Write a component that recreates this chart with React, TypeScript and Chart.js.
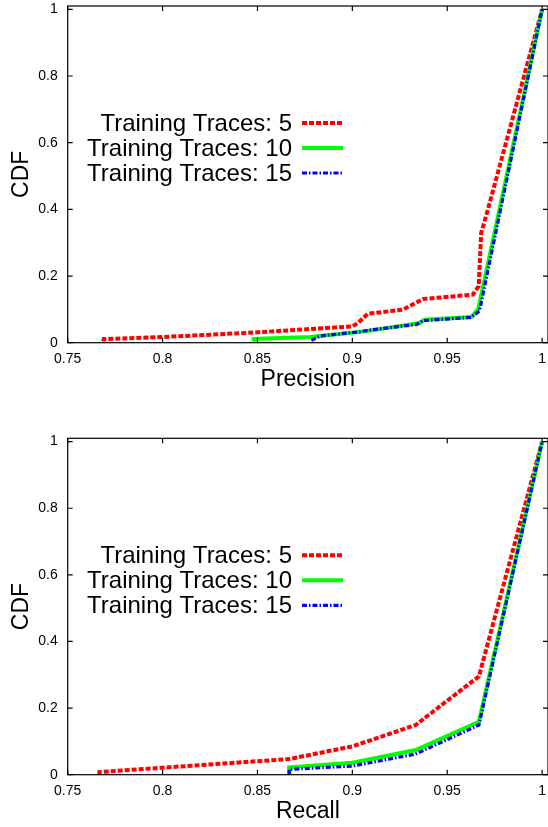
import React, { useEffect, useRef } from 'react';
import { Chart, registerables } from 'chart.js';

Chart.register(...registerables);

const FONT = '"Liberation Sans", Arial, Helvetica, sans-serif';

// ---- data ----
const seriesLabels = ['Training Traces: 5', 'Training Traces: 10', 'Training Traces: 15'];
const xTickValues = [0.75, 0.8, 0.85, 0.9, 0.95, 1];
const yTickValues = [0, 0.2, 0.4, 0.6, 0.8, 1];

// Precision panel
const precisionX5 = [0.7687, 0.769, 0.8, 0.85, 0.9, 0.9029, 0.9082, 0.9266, 0.9372, 0.9635, 0.9666, 0.9679, 0.9705, 1.0];
const precisionCdf5 = [0.004, 0.011, 0.017, 0.031, 0.049, 0.059, 0.087, 0.099, 0.131, 0.144, 0.17, 0.33, 0.38, 1.0];
const precisionX10 = [0.8477, 0.848, 0.8775, 0.9065, 0.9354, 0.938, 0.9626, 0.9653, 0.9663, 1.0];
const precisionCdf10 = [0.004, 0.011, 0.017, 0.034, 0.059, 0.069, 0.077, 0.094, 0.1, 1.0];
const precisionX15 = [0.8784, 0.883, 0.904, 0.908, 0.934, 0.937, 0.9626, 0.967, 1.0];
const precisionCdf15 = [0.007, 0.02, 0.033, 0.037, 0.055, 0.066, 0.076, 0.095, 1.0];

// Recall panel
const recallX5 = [0.7667, 0.7667, 0.8667, 0.9, 0.9333, 0.9667, 1.0];
const recallCdf5 = [0.0, 0.008, 0.047, 0.085, 0.149, 0.295, 1.0];
const recallX10 = [0.8667, 0.8667, 0.9, 0.9333, 0.9667, 1.0];
const recallCdf10 = [0.0, 0.022, 0.036, 0.074, 0.159, 1.0];
const recallX15 = [0.8667, 0.8667, 0.9, 0.9333, 0.9667, 1.0];
const recallCdf15 = [0.0, 0.016, 0.026, 0.062, 0.149, 1.0];

const seriesColors = ['#ff0000', '#00ff00', '#0000ff'];
const seriesWidths = [4, 4, 3.2];
const seriesDashes: number[][] = [[5, 2], [], [5, 2, 1.5, 2]];

const toPoints = (xs: number[], ys: number[]) => xs.map((x, i) => ({ x, y: ys[i] }));

const fmt = (v: number) => String(Number(v.toFixed(2)));

const gnuplotPlugin = {
  id: 'gnuplotFrame',
  afterDatasetsDraw(chart: any) {
    const { ctx, chartArea } = chart;
    const { left, right, top, bottom } = chartArea;
    const xs = chart.scales.x;
    const ys = chart.scales.y;
    const tl = 5;
    ctx.save();
    ctx.strokeStyle = '#000';
    ctx.lineWidth = 1.2;
    ctx.setLineDash([]);
    ctx.strokeRect(left, top, right - left, bottom - top);
    ctx.beginPath();
    xTickValues.forEach((v) => {
      const px = xs.getPixelForValue(v);
      ctx.moveTo(px, bottom);
      ctx.lineTo(px, bottom - tl);
      ctx.moveTo(px, top);
      ctx.lineTo(px, top + tl);
    });
    yTickValues.forEach((v) => {
      const py = ys.getPixelForValue(v);
      ctx.moveTo(left, py);
      ctx.lineTo(left + tl, py);
      ctx.moveTo(right, py);
      ctx.lineTo(right - tl, py);
    });
    ctx.stroke();

    // legend
    const textRight = 292;
    const sx0 = 302;
    const sx1 = 343;
    ctx.font = `24px ${FONT}`;
    ctx.fillStyle = '#000';
    ctx.textAlign = 'right';
    ctx.textBaseline = 'alphabetic';
    chart.data.datasets.forEach((ds: any, i: number) => {
      const rowY = top + 117 + i * 25;
      ctx.fillText(ds.label, textRight, rowY + 8);
      ctx.beginPath();
      ctx.strokeStyle = ds.borderColor;
      ctx.lineWidth = ds.borderWidth;
      ctx.setLineDash(ds.borderDash || []);
      ctx.moveTo(sx0, rowY);
      ctx.lineTo(sx1, rowY);
      ctx.stroke();
    });
    ctx.restore();
  },
};

type PanelProps = {
  series: { xs: number[]; ys: number[] }[];
  xTitle: string;
  height: number;
  padTop: number;
  xAxisHeight: number;
  titlePadBottom: number;
  top: number;
};

function Panel({ series, xTitle, height, padTop, xAxisHeight, titlePadBottom, top }: PanelProps) {
  const ref = useRef<HTMLCanvasElement | null>(null);
  useEffect(() => {
    if (!ref.current) return;
    const chart = new Chart(ref.current, {
      type: 'line',
      data: {
        datasets: series.map((s, i) => ({
          label: seriesLabels[i],
          data: toPoints(s.xs, s.ys),
          borderColor: seriesColors[i],
          backgroundColor: seriesColors[i],
          borderWidth: seriesWidths[i],
          borderDash: seriesDashes[i],
          borderCapStyle: 'butt',
          borderJoinStyle: 'miter',
          pointRadius: 0,
          fill: false,
          tension: 0,
          order: 3 - i,
        })),
      },
      options: {
        animation: false,
        responsive: false,
        devicePixelRatio: 1,
        layout: { padding: { top: padTop, left: 0, right: 0, bottom: 0 } },
        plugins: { legend: { display: false }, tooltip: { enabled: false } },
        scales: {
          x: {
            type: 'linear',
            min: 0.75,
            max: 1.0031,
            grid: { display: false, drawTicks: false },
            border: { display: false },
            afterBuildTicks: (scale: any) => {
              scale.ticks = xTickValues.map((v) => ({ value: v }));
            },
            afterFit: (scale: any) => {
              scale.height = xAxisHeight;
              scale.paddingLeft = 0;
              scale.paddingRight = 0;
            },
            ticks: {
              autoSkip: false,
              maxRotation: 0,
              padding: 8,
              color: '#000',
              font: { family: FONT, size: 14 },
              callback: (v: any) => fmt(Number(v)),
            },
            title: {
              display: true,
              text: xTitle,
              color: '#000',
              font: { family: FONT, size: 23 },
              padding: { top: 0, bottom: titlePadBottom },
            },
          },
          y: {
            type: 'linear',
            min: 0,
            max: 1.01,
            grid: { display: false, drawTicks: false },
            border: { display: false },
            afterBuildTicks: (scale: any) => {
              scale.ticks = yTickValues.map((v) => ({ value: v }));
            },
            afterFit: (scale: any) => {
              scale.width = 67.7;
              scale.paddingTop = 0;
              scale.paddingBottom = 0;
            },
            ticks: {
              padding: 10,
              color: '#000',
              font: { family: FONT, size: 14 },
              callback: (v: any) => fmt(Number(v)),
            },
            title: {
              display: true,
              text: 'CDF',
              color: '#000',
              font: { family: FONT, size: 23 },
              padding: { top: 8.2, bottom: 0 },
            },
          },
        },
      } as any,
      plugins: [gnuplotPlugin],
    });
    return () => chart.destroy();
  }, []);
  return (
    <canvas
      ref={ref}
      width={548}
      height={height}
      style={{ position: 'absolute', left: 0, top, width: 548, height, display: 'block' }}
    />
  );
}

export default function App() {
  return (
    <div style={{ position: 'absolute', left: 0, top: 0, width: 548, height: 827, background: '#fff' }}>
      <Panel
        series={[
          { xs: precisionX5, ys: precisionCdf5 },
          { xs: precisionX10, ys: precisionCdf10 },
          { xs: precisionX15, ys: precisionCdf15 },
        ]}
        xTitle="Precision"
        height={432}
        padTop={6}
        xAxisHeight={89.3}
        titlePadBottom={38.2}
        top={0}
      />
      <Panel
        series={[
          { xs: recallX5, ys: recallCdf5 },
          { xs: recallX10, ys: recallCdf10 },
          { xs: recallX15, ys: recallCdf15 },
        ]}
        xTitle="Recall"
        height={395}
        padTop={6.3}
        xAxisHeight={52.3}
        titlePadBottom={1.5}
        top={432}
      />
    </div>
  );
}
